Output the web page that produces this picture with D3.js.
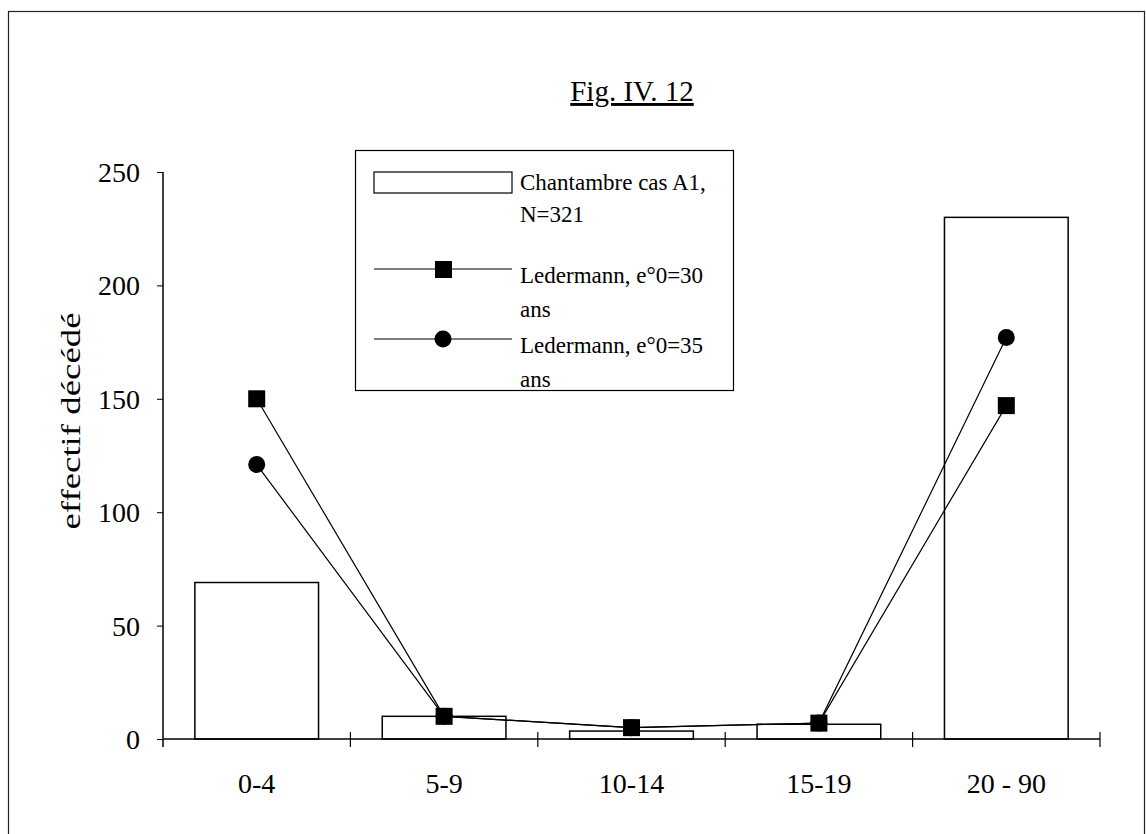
<!DOCTYPE html>
<html>
<head>
<meta charset="utf-8">
<script src="https://cdn.jsdelivr.net/npm/d3@7"></script>
<style>
  body { margin: 0; background: #fff; }
  text { font-family: "Liberation Serif", "Times New Roman", serif; fill: #000; }
</style>
</head>
<body>
<svg width="1146" height="834"></svg>
<script>
var categories = ["0-4", "5-9", "10-14", "15-19", "20 - 90"];
var chantambre = [69, 10, 3.5, 6.5, 230];
var led30 = [150, 10, 5, 7, 147];
var led35 = [121, 10, 5, 7, 177];
var yTicks = [0, 50, 100, 150, 200, 250];

var svg = d3.select("svg");

// frame round the figure
svg.append("rect")
   .attr("x", 8.5).attr("y", 11.5)
   .attr("width", 1136).attr("height", 830)
   .attr("fill", "none").attr("stroke", "#222").attr("stroke-width", 1.2);

var plotLeft = 163, plotRight = 1100, plotTop = 172, plotBottom = 739;

var xScale = d3.scaleBand()
               .domain(categories)
               .range([plotLeft, plotRight])
               .paddingInner(0.34)
               .paddingOuter(0.17);
var yScale = d3.scaleLinear()
               .domain([0, 250])
               .range([plotBottom, plotTop]);

// bars
svg.append("g").selectAll("rect")
   .data(chantambre)
   .enter().append("rect")
   .attr("x", function(d, i) { return xScale(categories[i]); })
   .attr("y", function(d) { return yScale(d); })
   .attr("width", xScale.bandwidth())
   .attr("height", function(d) { return plotBottom - yScale(d); })
   .attr("fill", "#fff")
   .attr("stroke", "#000")
   .attr("stroke-width", 1.5);

// y axis
var y_axis = d3.axisLeft(yScale).tickValues(yTicks).tickSize(6).tickPadding(17);
var gy = svg.append("g")
   .attr("transform", "translate(" + plotLeft + ",0)")
   .call(y_axis);
gy.select(".domain").attr("d", "M0," + plotTop + "V" + (plotBottom + 8)).attr("stroke-width", 1.5);
gy.selectAll("text").style("font-size", "28px").attr("dy", "0.34em");

// x axis with ticks between categories
var step = (plotRight - plotLeft) / categories.length;
var gx = svg.append("g")
   .attr("transform", "translate(0," + plotBottom + ")");
gx.append("path")
  .attr("d", "M" + plotLeft + ",0H" + plotRight)
  .attr("stroke", "#000").attr("stroke-width", 1.5).attr("fill", "none");
gx.selectAll("line.tk")
  .data(d3.range(1, categories.length + 1))
  .enter().append("line")
  .attr("class", "tk")
  .attr("x1", function(i) { return plotLeft + i * step; })
  .attr("x2", function(i) { return plotLeft + i * step; })
  .attr("y1", -7).attr("y2", 8)
  .attr("stroke", "#000").attr("stroke-width", 1.2);
gx.selectAll("text")
  .data(categories)
  .enter().append("text")
  .attr("x", function(d) { return xScale(d) + xScale.bandwidth() / 2; })
  .attr("y", 54)
  .attr("text-anchor", "middle")
  .style("font-size", "28px")
  .text(function(d) { return d; });

// lines
var lineGenerator = d3.line()
  .x(function(d, i) { return xScale(categories[i]) + xScale.bandwidth() / 2; })
  .y(function(d) { return yScale(d); });

[led35, led30].forEach(function(s) {
  svg.append("path")
     .attr("d", lineGenerator(s))
     .attr("fill", "none").attr("stroke", "#000").attr("stroke-width", 1.2);
});

svg.append("g").selectAll("circle")
   .data(led35).enter().append("circle")
   .attr("cx", function(d, i) { return xScale(categories[i]) + xScale.bandwidth() / 2; })
   .attr("cy", function(d) { return yScale(d); })
   .attr("r", 8.5).attr("fill", "#000");

svg.append("g").selectAll("rect")
   .data(led30).enter().append("rect")
   .attr("x", function(d, i) { return xScale(categories[i]) + xScale.bandwidth() / 2 - 8.5; })
   .attr("y", function(d) { return yScale(d) - 8.5; })
   .attr("width", 17).attr("height", 17).attr("fill", "#000");

// y label
svg.append("text")
   .attr("transform", "translate(80,421) rotate(-90)")
   .attr("text-anchor", "middle")
   .attr("textLength", 217)
   .attr("lengthAdjust", "spacingAndGlyphs")
   .style("font-size", "27px")
   .text("effectif décédé");

// title
svg.append("text")
   .attr("x", 632).attr("y", 101)
   .attr("text-anchor", "middle")
   .style("font-size", "29px")
   .style("text-decoration", "underline")
   .text("Fig. IV. 12");

// legend
var lg = svg.append("g");
lg.append("rect")
  .attr("x", 355.5).attr("y", 150.5).attr("width", 378).attr("height", 240)
  .attr("fill", "#fff").attr("stroke", "#000").attr("stroke-width", 1.2);
lg.append("rect")
  .attr("x", 374).attr("y", 172).attr("width", 138).attr("height", 21)
  .attr("fill", "#fff").attr("stroke", "#000").attr("stroke-width", 1.2);
lg.append("line").attr("x1", 374).attr("x2", 512).attr("y1", 269).attr("y2", 269)
  .attr("stroke", "#000").attr("stroke-width", 1.2);
lg.append("rect").attr("x", 435).attr("y", 261).attr("width", 17).attr("height", 17).attr("fill", "#000");
lg.append("line").attr("x1", 374).attr("x2", 512).attr("y1", 339).attr("y2", 339)
  .attr("stroke", "#000").attr("stroke-width", 1.2);
lg.append("circle").attr("cx", 443).attr("cy", 339).attr("r", 8.5).attr("fill", "#000");

var legendLines = [
  ["Chantambre cas A1,", 190], ["N=321", 222],
  ["Ledermann, e°0=30", 283], ["ans", 317],
  ["Ledermann, e°0=35", 353], ["ans", 387]
];
lg.selectAll("text.lt")
  .data(legendLines).enter().append("text")
  .attr("class", "lt")
  .attr("x", 520)
  .attr("y", function(d) { return d[1]; })
  .style("font-size", "23px")
  .text(function(d) { return d[0]; });
</script>
</body>
</html>
